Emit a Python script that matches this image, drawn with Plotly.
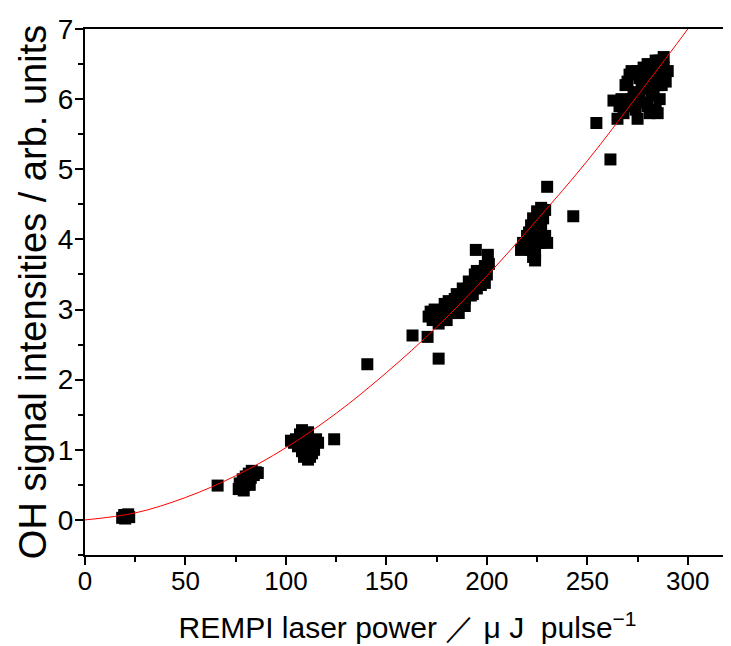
import plotly.graph_objects as go

# measured points (REMPI laser power, OH signal)
power = [18.5, 19.5, 20.5, 21.5, 22.0, 20.0,
         66.0,
         76.5, 77.0, 78.0, 78.5, 79.5, 80.0, 81.0, 81.5, 82.5, 83.0, 84.0, 85.0, 86.0, 79.0, 82.0,
         102.5, 104.0, 106.0, 107.0, 108.0, 109.0, 110.0, 110.0, 111.0, 112.0, 112.0, 113.0,
         114.0, 115.0, 116.0, 108.0, 111.0, 113.0, 109.0, 105.0,
         124.0, 140.5,
         163.0, 170.5, 176.0,
         171.0, 172.0, 173.0, 174.0, 175.0, 176.0, 177.0, 178.0, 179.0, 180.0, 180.0, 181.0,
         182.0, 183.0, 184.0, 185.0, 185.0, 186.0, 187.0, 188.0, 189.0, 190.0, 191.0, 192.0,
         193.0, 194.0, 195.0, 196.0, 197.0, 198.0, 199.0, 200.0, 201.0, 174.0, 178.0, 183.0,
         187.0, 191.0, 195.0, 199.0, 189.0, 193.0, 197.0,
         194.5, 200.5,
         217.0, 218.0, 219.0, 220.0, 221.0, 222.0, 222.0, 223.0, 224.0, 223.0, 224.0, 225.0,
         225.0, 226.0, 227.0, 228.0, 226.0, 228.0, 229.0, 230.0, 229.0, 227.0, 224.0,
         230.0, 243.0, 254.5, 261.5,
         263.0, 265.0, 266.0, 267.0, 268.0, 269.0, 270.0, 271.0, 272.0, 273.0, 274.0, 275.0,
         276.0, 277.0, 278.0, 279.0, 280.0, 280.0, 281.0, 282.0, 283.0, 284.0, 285.0, 285.0,
         286.0, 287.0, 288.0, 289.0, 290.0, 288.0, 284.0, 276.0, 272.0, 278.0, 282.0, 275.0,
         270.0, 283.0, 279.0, 286.0, 287.0, 281.0, 277.0]
signal = [0.03, 0.07, 0.05, 0.08, 0.04, 0.02,
          0.49,
          0.44, 0.52, 0.47, 0.58, 0.50, 0.62, 0.55, 0.66, 0.60, 0.70, 0.64, 0.68, 0.67, 0.42, 0.50,
          1.13, 1.10, 1.05, 1.22, 1.28, 1.18, 0.95, 1.05, 0.86, 0.90, 1.02, 1.12,
          1.00, 1.15, 1.10, 0.98, 1.25, 0.95, 0.90, 1.15,
          1.15, 2.22,
          2.63, 2.61, 2.30,
          2.90, 2.97, 2.85, 3.00, 2.92, 2.80, 2.98, 2.95, 3.08, 3.05, 2.85, 3.12,
          3.10, 2.95, 3.15, 3.22, 3.00, 2.95, 3.12, 3.30, 3.15, 3.25, 3.40, 3.20,
          3.35, 3.50, 3.30, 3.45, 3.55, 3.40, 3.62, 3.50, 3.65, 2.88, 2.85, 3.05,
          3.20, 3.30, 3.55, 3.38, 3.05, 3.22, 3.35,
          3.85, 3.78,
          3.85, 3.95, 3.90, 4.05, 4.10, 4.20, 3.85, 3.75, 3.70, 4.30, 4.00, 4.15,
          4.40, 4.35, 4.45, 4.30, 3.95, 4.00, 4.05, 3.95, 4.42, 4.20, 3.80,
          4.75, 4.33, 5.66, 5.14,
          5.98, 5.72, 5.90, 6.00, 5.80, 6.20, 6.25, 6.35, 6.40, 6.10, 5.85, 5.72,
          6.00, 6.30, 6.45, 6.15, 5.90, 6.50, 6.30, 6.05, 6.40, 5.85, 6.20, 5.80,
          6.55, 6.35, 6.45, 6.25, 6.40, 6.60, 6.55, 6.30, 6.00, 5.95, 6.25, 6.40,
          5.90, 6.10, 6.35, 6.00, 6.20, 5.80, 6.15]

# fitted curve
fit_x = [0, 25, 50, 75, 100, 125, 150, 175, 200, 225, 250, 275, 300, 310]
fit_y = [0, 0.1, 0.32, 0.63, 1.03, 1.52, 2.1, 2.75, 3.48, 4.28, 5.12, 6.05, 7.0, 7.4]

x_ticks = [0, 50, 100, 150, 200, 250, 300]
y_ticks = [0, 1, 2, 3, 4, 5, 6, 7]

fig = go.Figure()
fig.add_trace(go.Scatter(x=power, y=signal, mode='markers',
                         marker=dict(symbol='square', size=12, color='black', line=dict(width=0))))
fig.add_trace(go.Scatter(x=fit_x, y=fit_y, mode='lines', line_shape='spline',
                         line=dict(color='red', width=1)))

# page body adds 8px offset, margins compensate for it
fig.update_layout(
    width=731, height=646,
    margin=dict(l=77, r=9, t=21, b=99),
    plot_bgcolor='white', paper_bgcolor='white',
    showlegend=False,
    font=dict(family='Liberation Sans', color='black'),
)
fig.update_xaxes(range=[0, 321], tickvals=x_ticks, automargin=False,
                 showline=True, linecolor='black', linewidth=2, mirror=True,
                 ticks='outside', ticklen=8, tickwidth=2, tickcolor='black',
                 minor=dict(tickvals=[25, 75, 125, 175, 225, 275], ticks='outside',
                            ticklen=5, tickwidth=2, tickcolor='black'),
                 showgrid=False, zeroline=False,
                 tickfont=dict(size=26), ticklabelstandoff=-6,
                 title=dict(text='REMPI laser power ／ μ J  pulse<sup>−1</sup>',
                            font=dict(size=30),
                            standoff=22))
fig.update_yaxes(range=[-0.5, 7], tickvals=y_ticks, automargin=False,
                 showline=True, linecolor='black', linewidth=2,
                 ticks='outside', ticklen=8, tickwidth=2, tickcolor='black',
                 minor=dict(tickvals=[-0.5, 0.5, 1.5, 2.5, 3.5, 4.5, 5.5, 6.5], ticks='outside',
                            ticklen=5, tickwidth=2, tickcolor='black'),
                 showgrid=False, zeroline=False,
                 tickfont=dict(size=28), ticklabelstandoff=-4,
                 title=dict(text='OH signal intensities / arb. units', font=dict(size=38),
                            standoff=0))

fig.write_html("out.html")
